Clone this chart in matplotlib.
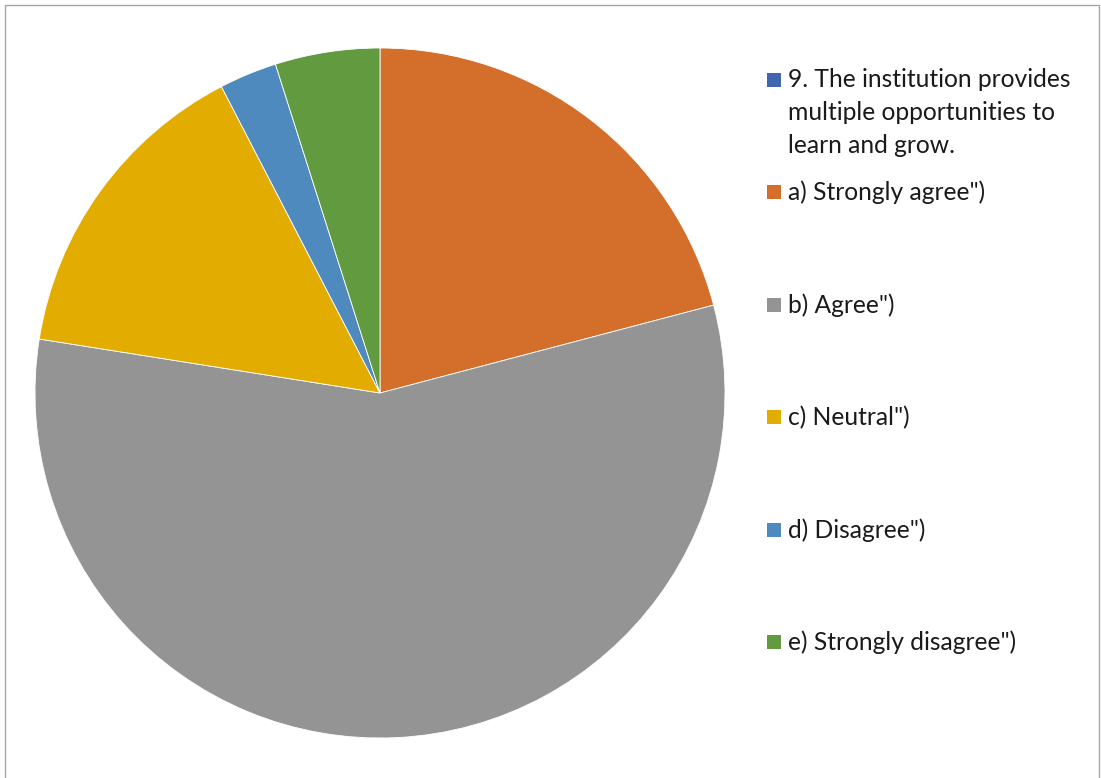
import matplotlib.pyplot as plt
from matplotlib.patches import Rectangle

# share of responses, clockwise from 12 o'clock
labels = ['9. The institution provides\nmultiple opportunities to\nlearn and grow.',
          'a) Strongly agree")', 'b) Agree")', 'c) Neutral")',
          'd) Disagree")', 'e) Strongly disagree")']
values = [0, 20.9, 56.6, 14.9, 2.7, 4.9]
colors = ['#3F66AF', '#D36F2B', '#949494', '#E3AC00', '#4E8ABE', '#619A3F']

W, H = 1101, 778
fig = plt.figure(figsize=(W / 100, H / 100), dpi=100)

# pie: centre (380, 393), radius 345 px
cx, cy, r = 380, 393, 345
ax = fig.add_axes([(cx - r) / W, (H - cy - r) / H, 2 * r / W, 2 * r / H])
ax.pie(values[1:], colors=colors[1:], startangle=90, counterclock=False,
       wedgeprops=dict(linewidth=0.6, edgecolor='white'))
ax.set_aspect('equal')
ax.set_xlim(-1, 1)
ax.set_ylim(-1, 1)
ax.axis('off')

# legend drawn by hand to keep Excel's uneven spacing
ys = [80, 192, 304.5, 417, 529.5, 642]
line_px = 32.5
for lab, col, y in zip(labels, colors, ys):
    fig.patches.append(Rectangle((767 / W, (H - y - 7) / H), 14 / W, 14 / H,
                                 transform=fig.transFigure, facecolor=col,
                                 edgecolor='none'))
    # baseline of a multi-line text is that of its last line
    base = y + 8 + lab.count('\n') * line_px
    fig.text(788 / W, (H - base) / H, lab, fontsize=17.7, family='Lato',
             color='#1A1A1A', va='baseline', ha='left', linespacing=1.52)

# thin chart frame (bottom edge falls outside the picture)
fig.patches.append(Rectangle((5 / W, -5 / H), (W - 7) / W, (H - 0) / H,
                             transform=fig.transFigure, fill=False,
                             edgecolor='#A6A6A6', linewidth=1))

fig.savefig('out.png', dpi=100)
